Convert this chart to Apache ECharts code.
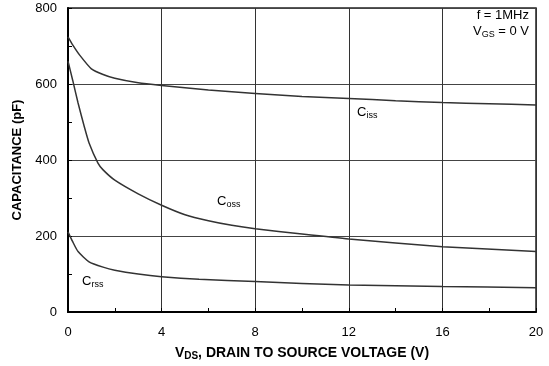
<!DOCTYPE html>
<html><head><meta charset="utf-8">
<script src="https://cdn.jsdelivr.net/npm/echarts@6/dist/echarts.min.js"></script>
<style>html,body{margin:0;padding:0;background:#fff}#c{width:549px;height:366px}</style>
</head><body><div id="c"></div>
<script>
const cissX = [0, 0.2, 0.5, 1, 1.5, 2, 3, 4, 6, 8, 10, 12, 14, 16, 18, 20];
const cissY = [724, 703, 676, 640, 625, 615, 603, 596, 584, 575, 567, 562, 556, 551, 548, 545];
const cossX = [0, 0.2, 0.43, 0.7, 0.9, 1.28, 1.5, 2, 3, 4, 5, 6, 7, 8, 10, 12, 16, 20];
const cossY = [660, 610, 550, 487, 445, 392, 374, 347, 311, 281, 256, 240, 228, 219, 205, 192, 172, 159];
const crssX = [0, 0.2, 0.43, 0.9, 1.5, 2, 3, 4, 5.6, 8, 12, 16, 20];
const crssY = [211, 185, 159, 132, 118, 110, 100, 93, 86, 80, 71, 67, 64];
const xTicks = [0, 4, 8, 12, 16, 20];
const yTicks = [0, 200, 400, 600, 800];

const pairs = (xs, ys) => xs.map((x, i) => [x, ys[i]]);
const font = 'Liberation Sans, Arial, sans-serif';
const lineSeries = (name, xs, ys) => ({
  name, type: 'line', data: pairs(xs, ys), symbol: 'none', smooth: 0.2,
  lineStyle: { color: '#333', width: 1.5 }, z: 5
});
const subRich = (fs, sfs, pad) => ({
  n: { fontFamily: font, fontSize: fs, fill: '#000' },
  s: { fontFamily: font, fontSize: sfs, fill: '#000', verticalAlign: 'bottom', padding: [pad, 0, 0, 0] }
});
const chart = echarts.init(document.getElementById('c'));
chart.setOption({
  animation: false,
  grid: { left: 68, right: 13, top: 8, bottom: 54, show: true, borderColor: '#222', borderWidth: 1.5 },
  xAxis: {
    type: 'value', min: xTicks[0], max: xTicks[xTicks.length - 1], interval: 4,
    axisLine: { lineStyle: { color: '#000', width: 2 } },
    axisTick: { show: true, inside: true, length: 4, lineStyle: { color: '#000' } },
    minorTick: { show: true, splitNumber: 2, length: 4, lineStyle: { color: '#000', width: 1 } },
    splitLine: { show: true, lineStyle: { color: '#333', width: 1 } },
    axisLabel: { color: '#000', fontFamily: font, fontSize: 13, margin: 14 },
    name: '{b|V}{s|DS}{b|, DRAIN TO SOURCE VOLTAGE (V)}',
    nameLocation: 'middle', nameGap: 33,
    nameTextStyle: { rich: {
      b: { fontFamily: font, fontSize: 14, fontWeight: 'bold', color: '#000' },
      s: { fontFamily: font, fontSize: 10, fontWeight: 'bold', color: '#000', verticalAlign: 'bottom', padding: [6, 0, 0, 0] }
    } }
  },
  yAxis: {
    type: 'value', min: yTicks[0], max: yTicks[yTicks.length - 1], interval: 200,
    axisLine: { show: true, lineStyle: { color: '#000', width: 2 } },
    axisTick: { show: true, inside: true, length: 4, lineStyle: { color: '#000' } },
    minorTick: { show: true, splitNumber: 2, length: 4, lineStyle: { color: '#000', width: 1 } },
    splitLine: { show: true, lineStyle: { color: '#444', width: 1 } },
    axisLabel: { color: '#000', fontFamily: font, fontSize: 13, margin: 11 },
    name: 'CAPACITANCE (pF)', nameLocation: 'middle', nameGap: 43,
    nameTextStyle: { fontFamily: font, fontSize: 13, fontWeight: 'bold', color: '#000' }
  },
  series: [
    lineSeries('Ciss', cissX, cissY),
    lineSeries('Coss', cossX, cossY),
    lineSeries('Crss', crssX, crssY)
  ],
  graphic: [
    { type: 'text', left: 357, top: 106, style: { text: '{n|C}{s|iss}', rich: subRich(13, 9, 6) } },
    { type: 'text', left: 217, top: 195, style: { text: '{n|C}{s|oss}', rich: subRich(13, 9, 6) } },
    { type: 'text', left: 82, top: 275, style: { text: '{n|C}{s|rss}', rich: subRich(13, 9, 6) } },
    { type: 'text', right: 20, top: 9, style: { text: 'f = 1MHz', fontFamily: font, fontSize: 13, fill: '#000' } },
    { type: 'text', right: 20, top: 25, style: { text: '{n|V}{s|GS}{n| = 0 V}', rich: subRich(13, 9, 6) } }
  ]
});
</script></body></html>
